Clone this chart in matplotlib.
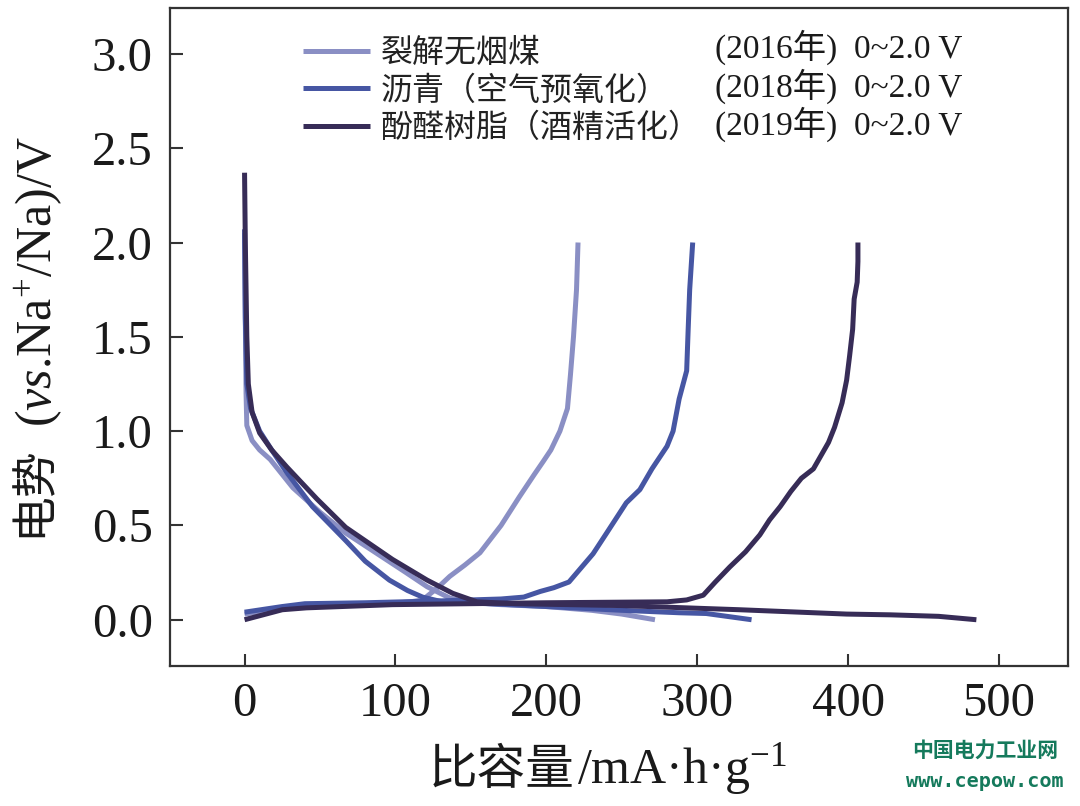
import matplotlib
matplotlib.use('Agg')
import matplotlib.pyplot as plt

plt.rcParams['font.family'] = ['Liberation Serif', 'Noto Sans CJK SC']
plt.rcParams['mathtext.fontset'] = 'custom'
plt.rcParams['mathtext.rm'] = 'Liberation Serif'
plt.rcParams['mathtext.it'] = 'Liberation Serif:italic'

# 裂解无烟煤 (2016)
coal_dis_x = [0, 0.5, 1, 1.5, 5, 10, 17, 32, 50, 67, 87, 107, 121, 136, 150, 170, 200, 230, 250, 272]
coal_dis_y = [2.05, 1.6, 1.2, 1.03, 0.95, 0.9, 0.85, 0.70, 0.57, 0.46, 0.355, 0.25, 0.175, 0.115, 0.09, 0.08, 0.07, 0.05, 0.03, 0.0]
coal_chg_x = [0, 25, 60, 95, 110, 118, 128, 136, 146, 156, 170, 182, 192, 198, 203, 209, 214, 216, 218, 220, 221]
coal_chg_y = [0.03, 0.06, 0.075, 0.085, 0.095, 0.105, 0.17, 0.23, 0.29, 0.355, 0.5, 0.65, 0.77, 0.84, 0.9, 1.0, 1.12, 1.3, 1.5, 1.75, 2.0]

# 沥青（空气预氧化） (2018)
pitch_dis_x = [0, 0.5, 1.5, 4, 10, 18, 28, 45, 67, 80, 96, 108, 118, 131, 150, 200, 250, 288, 306, 336]
pitch_dis_y = [2.07, 1.6, 1.25, 1.12, 1.0, 0.9, 0.78, 0.60, 0.42, 0.31, 0.21, 0.155, 0.12, 0.095, 0.09, 0.07, 0.05, 0.037, 0.033, 0.0]
pitch_chg_x = [0, 25, 40, 80, 130, 170, 185, 196, 205, 215, 231, 240, 253, 262, 270, 280, 284, 288, 293, 294, 295, 297]
pitch_chg_y = [0.04, 0.07, 0.085, 0.09, 0.10, 0.11, 0.12, 0.15, 0.17, 0.2, 0.35, 0.46, 0.62, 0.69, 0.8, 0.92, 1.0, 1.17, 1.32, 1.54, 1.75, 2.0]

# 酚醛树脂（酒精活化） (2019)
resin_dis_x = [0, 0.5, 1.5, 2.5, 5, 10, 18, 28, 48, 67, 98, 121, 138, 154, 180, 250, 328, 399, 428, 460, 485]
resin_dis_y = [2.37, 2.0, 1.5, 1.25, 1.1, 0.99, 0.9, 0.81, 0.64, 0.49, 0.32, 0.21, 0.14, 0.095, 0.085, 0.075, 0.053, 0.03, 0.026, 0.018, 0.0]
resin_chg_x = [0, 25, 41, 98, 200, 280, 293, 304, 312, 321.6, 332, 341.5, 348, 355, 362, 369, 377, 387, 391, 396, 399, 401, 403, 404, 406, 406.5, 406.5]
resin_chg_y = [0.0, 0.053, 0.063, 0.08, 0.09, 0.095, 0.105, 0.13, 0.2, 0.28, 0.36, 0.45, 0.53, 0.6, 0.68, 0.75, 0.8, 0.94, 1.02, 1.15, 1.27, 1.4, 1.54, 1.7, 1.79, 1.9, 2.0]

names = ['裂解无烟煤', '沥青（空气预氧化）', '酚醛树脂（酒精活化）']
years = ['(2016年)  0~2.0 V', '(2018年)  0~2.0 V', '(2019年)  0~2.0 V']
colors = ['#8a8fc4', '#4656a3', '#372c57']
x_ticks = [0, 100, 200, 300, 400, 500]
y_ticks = [0.0, 0.5, 1.0, 1.5, 2.0, 2.5, 3.0]

fig = plt.figure(figsize=(10.8, 8.06), dpi=100)
ax = fig.add_axes([0.157, 0.174, 0.832, 0.816])

curves = [
    (coal_dis_x, coal_dis_y, coal_chg_x, coal_chg_y),
    (pitch_dis_x, pitch_dis_y, pitch_chg_x, pitch_chg_y),
    (resin_dis_x, resin_dis_y, resin_chg_x, resin_chg_y),
]
handles = []
for (dx, dy, cx, cy), c, n in zip(curves, colors, names):
    h, = ax.plot(dx, dy, color=c, lw=3.6, label=n, solid_capstyle='butt')
    ax.plot(cx, cy, color=c, lw=3.6, solid_capstyle='butt')
    handles.append(h)

ax.set_xlim(-49.7, 545.8)
ax.set_ylim(-0.244, 3.243)
ax.set_xticks(x_ticks)
ax.set_yticks(y_ticks)
ax.set_xticklabels([str(v) for v in x_ticks])
ax.set_yticklabels(['%.1f' % v for v in y_ticks])
ax.tick_params(direction='in', length=9, width=1.5, color='#333333',
               labelsize=35, labelcolor='#1a1a1a')
ax.tick_params(axis='x', pad=12)
ax.tick_params(axis='y', pad=12)
for s in ax.spines.values():
    s.set_linewidth(1.6)
    s.set_color('#333333')

leg = ax.legend(handles=handles, loc='upper left', bbox_to_anchor=(0.116, 1.0),
                frameon=False, handlelength=2.1, handletextpad=0.35,
                labelspacing=0.18, prop={'family': ['Noto Sans CJK SC'], 'size': 23})
for t in leg.get_texts():
    t.set_color('#222222')

for i, y in enumerate(years):
    ax.text(0.607, 0.940 - i * 0.0585, y, transform=ax.transAxes, fontsize=24,
            va='center', ha='left', color='#1a1a1a')

# axis labels
fig.text(0.031, 0.391, '电势', rotation=90, fontsize=33, ha='center', va='center',
         family=['Noto Sans CJK SC'], color='#1a1a1a')
fig.text(0.036, 0.651, r'($\mathit{vs}$.Na$^{+}$/Na)/V', rotation=90, fontsize=36,
         ha='center', va='center', color='#1a1a1a')
fig.text(0.532, 0.044, '比容量', fontsize=35, ha='right', va='center',
         family=['Noto Sans CJK SC'], color='#1a1a1a')
fig.text(0.534, 0.046, r'/mA·h·g$^{-1}$', fontsize=36, ha='left', va='center',
         color='#1a1a1a')

# watermark
fig.text(0.912, 0.068, '中国电力工业网', fontsize=15, ha='center', va='center',
         family=['Noto Sans CJK SC'], weight='bold', color='#157a5c')
fig.text(0.912, 0.031, 'www.cepow.com', fontsize=14.5, ha='center', va='center',
         family=['DejaVu Sans Mono'], weight='bold', color='#157a5c')

fig.savefig('out.png', dpi=100)
